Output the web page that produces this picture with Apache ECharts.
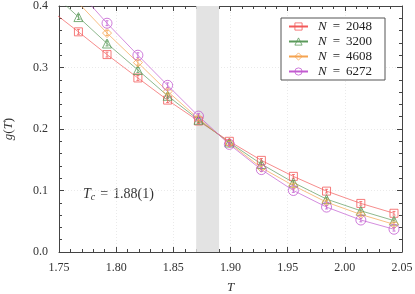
<!DOCTYPE html>
<html><head><meta charset="utf-8">
<script src="https://cdn.jsdelivr.net/npm/echarts@6/dist/echarts.min.js"></script>
<style>html,body{margin:0;padding:0;background:#fff}#c{width:415px;height:294px}</style>
</head><body><div id="c"></div>
<script>
var T = [1.742, 1.767, 1.792, 1.819, 1.845, 1.872, 1.899, 1.927, 1.955, 1.984, 2.014, 2.043];
var g2048 = [0.394, 0.358, 0.321, 0.283, 0.247, 0.213, 0.180, 0.149, 0.123, 0.099, 0.079, 0.063];
var g3200 = [0.425, 0.382, 0.339, 0.296, 0.254, 0.215, 0.178, 0.143, 0.113, 0.086, 0.067, 0.051];
var g4608 = [0.455, 0.405, 0.356, 0.308, 0.261, 0.217, 0.177, 0.137, 0.108, 0.081, 0.061, 0.045];
var g6272 = [0.480, 0.424, 0.372, 0.320, 0.271, 0.221, 0.175, 0.134, 0.100, 0.073, 0.052, 0.037];
var errs = [0.004, 0.004, 0.004, 0.004, 0.004, 0.004, 0.003, 0.003, 0.003, 0.003, 0.003, 0.003];
var seriesNames = ['2048', '3200', '4608', '6272'];
var xTicks = [1.75, 1.80, 1.85, 1.90, 1.95, 2.00, 2.05];
var yTicks = [0.0, 0.1, 0.2, 0.3, 0.4];
var band = [1.87, 1.89];
var tcLabel = '1.88(1)';

var colors = ['#f25a5a', '#5b9a5b', '#f5a34f', '#c25bd0'];
var symbols = ['rect', 'triangle', 'diamond', 'circle'];
var sizes = [8, 9, 9, 10];
var vals = [g2048, g3200, g4608, g6272];
var serif = 'Liberation Serif';
var clear = 'rgba(255,255,255,0)';

var chart = echarts.init(document.getElementById('c'), null, {renderer: 'canvas'});
var series = [];
vals.forEach(function (v, i) {
  series.push({
    name: seriesNames[i], type: 'line', xAxisIndex: 0, yAxisIndex: 0,
    data: T.map(function (t, k) { return [t, v[k]]; }),
    symbol: symbols[i], symbolSize: sizes[i], showSymbol: true,
    lineStyle: {color: colors[i], width: 0.7},
    itemStyle: {color: clear, borderColor: colors[i], borderWidth: 0.8},
    clip: true, z: 3, animation: false,
    markArea: i === 0 ? {silent: true, itemStyle: {color: '#e3e3e3'}, z: 1,
      data: [[{xAxis: band[0]}, {xAxis: band[1]}]]} : undefined
  });
  series.push({
    name: seriesNames[i], type: 'custom', xAxisIndex: 0, yAxisIndex: 0,
    data: T.map(function (t, k) { return [t, v[k], errs[k]]; }),
    clip: true, z: 4, animation: false, silent: true,
    renderItem: function (params, api) {
      var x = api.value(0), y = api.value(1), e = api.value(2);
      var p1 = api.coord([x, y - e]), p2 = api.coord([x, y + e]);
      var st = {stroke: colors[i], lineWidth: 0.8};
      return {type: 'group', children: [
        {type: 'line', shape: {x1: p1[0], y1: p1[1], x2: p2[0], y2: p2[1]}, style: st},
        {type: 'line', shape: {x1: p1[0] - 1.5, y1: p1[1], x2: p1[0] + 1.5, y2: p1[1]}, style: st},
        {type: 'line', shape: {x1: p2[0] - 1.5, y1: p2[1], x2: p2[0] + 1.5, y2: p2[1]}, style: st}
      ]};
    }
  });
});

var axisLineStyle = {color: '#444', width: 1};
function xAx(pos, labels) {
  return {
    type: 'value', position: pos, min: xTicks[0], max: xTicks[xTicks.length - 1], interval: 0.05,
    axisLine: {show: true, onZero: false, lineStyle: axisLineStyle},
    axisTick: {show: true, inside: true, length: 5, lineStyle: axisLineStyle},
    minorTick: {show: true, splitNumber: 5, length: 3, lineStyle: axisLineStyle},
    splitLine: {show: labels, lineStyle: {color: '#dcdcdc', type: [1, 2], width: 0.6}},
    axisLabel: {show: labels, margin: 10, color: '#333', fontFamily: serif, fontSize: 12,
      formatter: function (v) { return v.toFixed(2); }},
    name: labels ? 'T' : '', nameLocation: 'middle', nameGap: 29,
    nameTextStyle: {fontFamily: serif, fontStyle: 'italic', fontSize: 13, color: '#333'}
  };
}
function yAx(pos, labels) {
  return {
    type: 'value', position: pos, min: yTicks[0], max: yTicks[yTicks.length - 1], interval: 0.1,
    axisLine: {show: true, onZero: false, lineStyle: axisLineStyle},
    axisTick: {show: true, inside: true, length: 5, lineStyle: axisLineStyle},
    minorTick: {show: true, splitNumber: 5, length: 3, lineStyle: axisLineStyle},
    splitLine: {show: labels, lineStyle: {color: '#dcdcdc', type: [1, 2], width: 0.6}},
    axisLabel: {show: labels, margin: 11, color: '#333', fontFamily: serif, fontSize: 12,
      formatter: function (v) { return v.toFixed(1); }},
    name: labels ? '{i|g}({i|T})' : '', nameLocation: 'middle', nameGap: 44,
    nameTextStyle: {fontFamily: serif, fontSize: 13, color: '#333',
      rich: {i: {fontFamily: serif, fontStyle: 'italic', fontSize: 13, color: '#333'}}}
  };
}

chart.setOption({
  animation: false,
  grid: {left: 59, right: 13, top: 6, bottom: 42, show: false, containLabel: false, outerBoundsMode: 'none'},
  xAxis: [xAx('bottom', true), xAx('top', false)],
  yAxis: [yAx('left', true), yAx('right', false)],
  legend: {
    orient: 'vertical', left: 281, top: 18,
    padding: [1, 13, 1, 7], itemGap: 0, itemWidth: 19, itemHeight: 9,
    borderColor: '#555', borderWidth: 1, backgroundColor: '#fff',
    data: seriesNames.map(function (n, i) {
      return {name: n, itemStyle: {color: clear, borderColor: colors[i], borderWidth: 0.8}};
    }),
    formatter: function (n) { return '{i|N}{s|}={s|}' + n; },
    textStyle: {fontFamily: serif, fontSize: 13, color: '#222', lineHeight: 15, padding: [0, 0, 0, 5],
      rich: {
        i: {fontFamily: serif, fontStyle: 'italic', fontSize: 13, color: '#222'},
        s: {width: 6}
      }}
  },
  graphic: [{
    type: 'text', left: 83, top: 187,
    style: {
      text: '{i|T}{s|c}{sp|}={sp|}' + tcLabel,
      rich: {
        i: {fontFamily: serif, fontStyle: 'italic', fontSize: 14, fill: '#333'},
        s: {fontFamily: serif, fontStyle: 'italic', fontSize: 10, fill: '#333', padding: [6, 0, 0, 0]},
        sp: {width: 5}
      },
      fontFamily: serif, fontSize: 14, fill: '#333'
    }
  }],
  series: series
});
</script></body></html>
